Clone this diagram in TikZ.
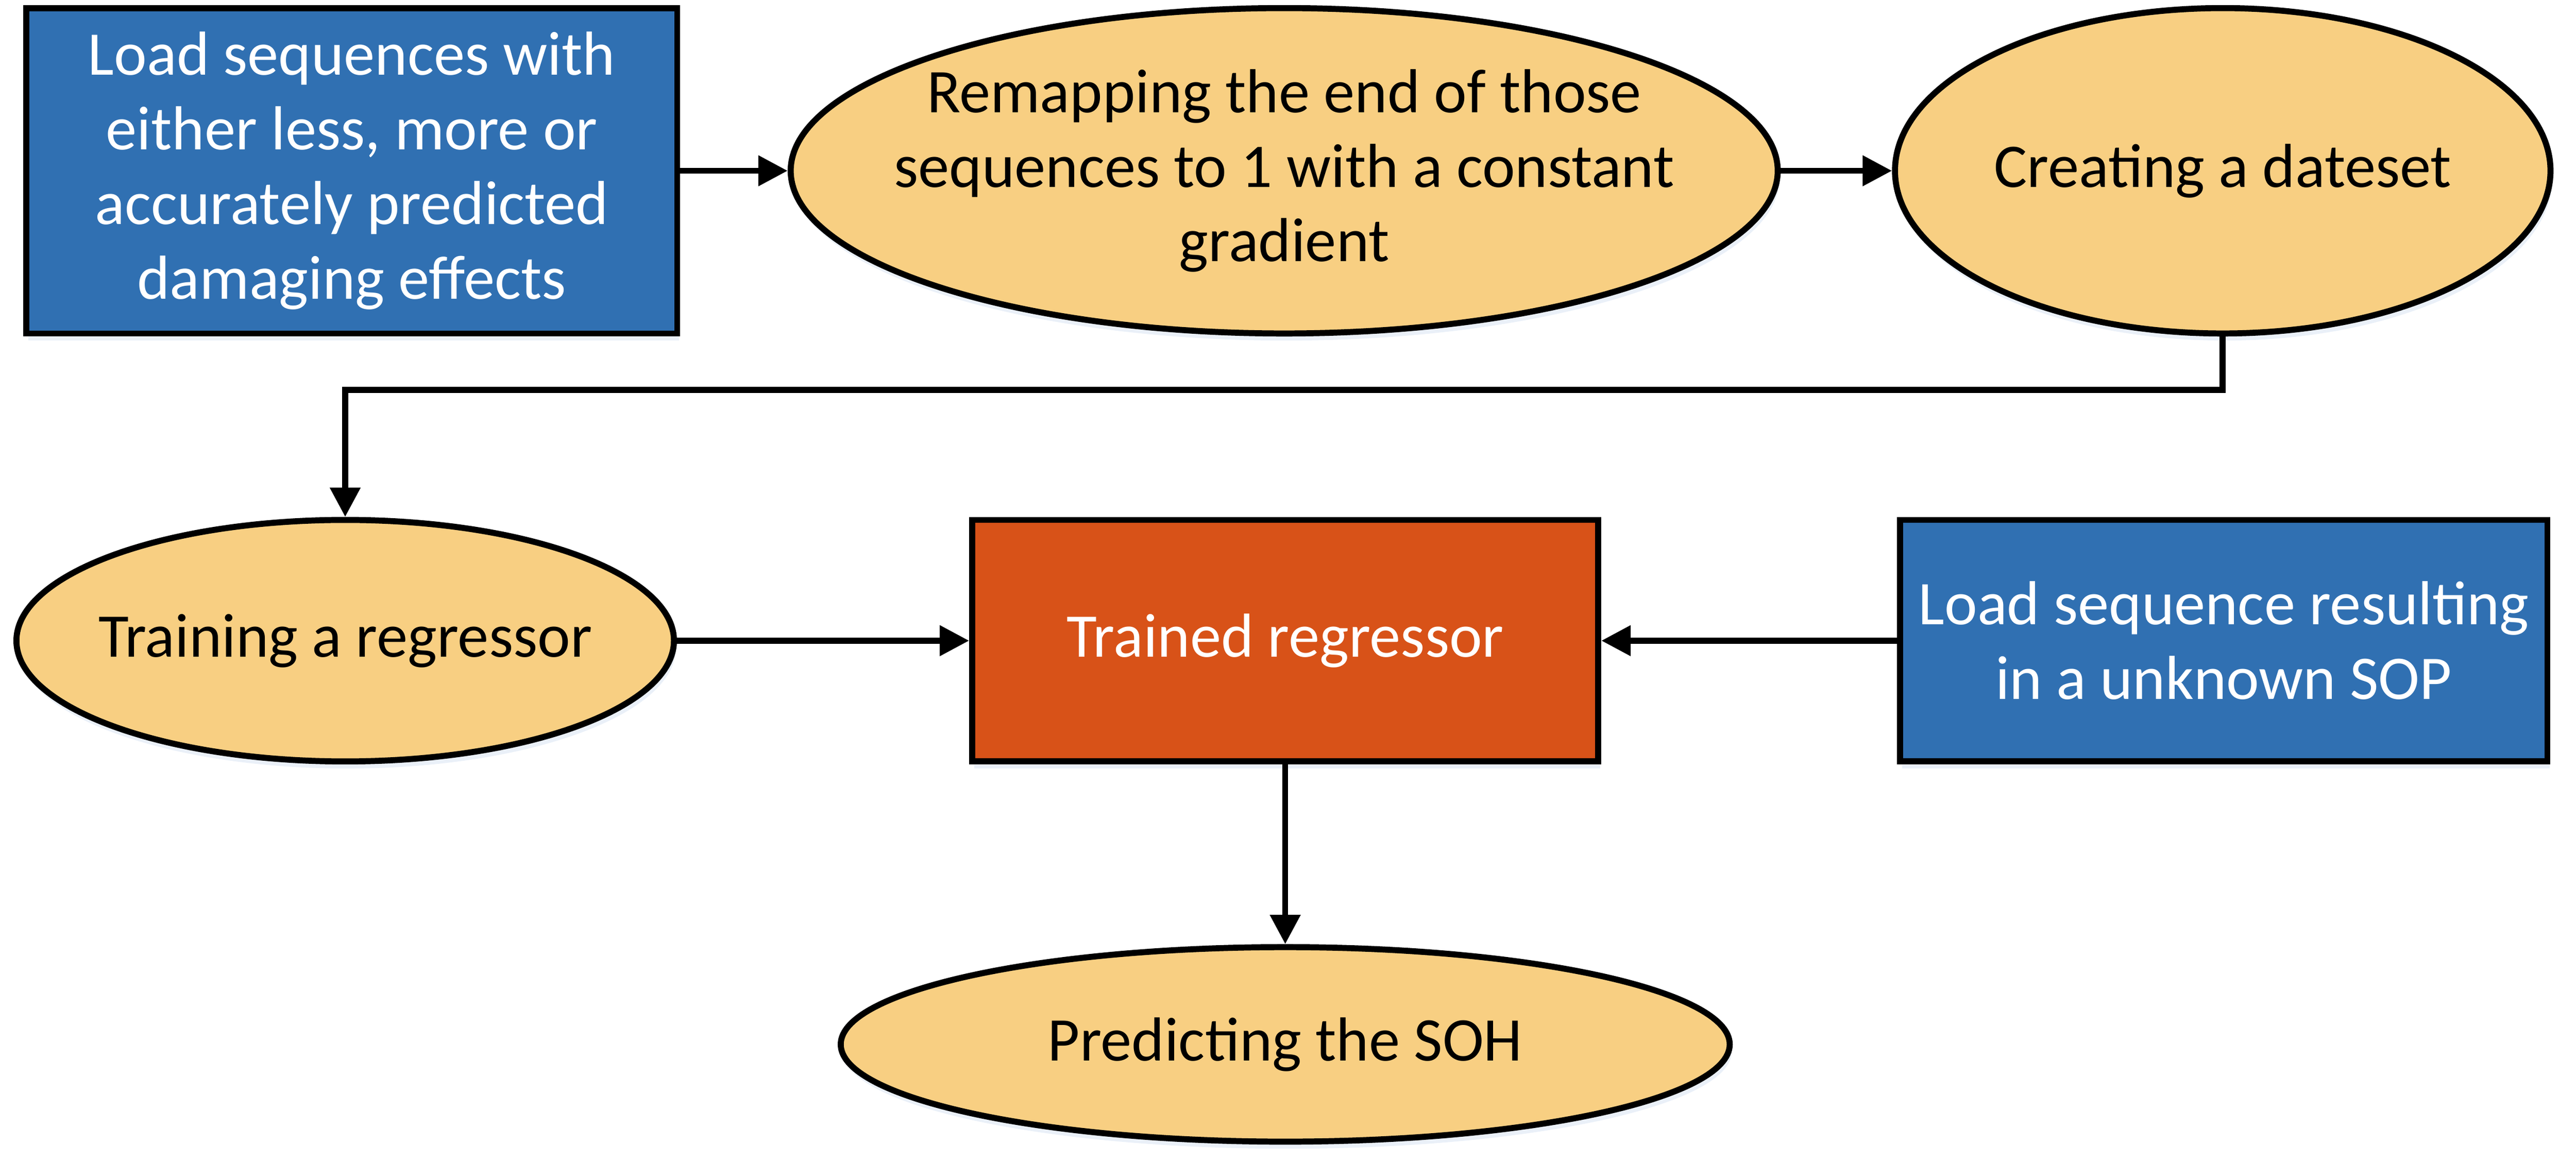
\documentclass[tikz,border=0pt]{standalone}
\usepackage{fontspec}
\setmainfont{Carlito}
\usepackage{tikz}
\usetikzlibrary{shapes.geometric,arrows.meta,shadows,positioning}
\usepackage{xcolor}
\definecolor{boxblue}{HTML}{3070B2}
\definecolor{ovalfill}{HTML}{F8CF82}
\definecolor{trainred}{HTML}{D85218}
\definecolor{shadowblue}{HTML}{DCE6F4}
\tikzset{%
  shape base/.style={draw=black, line width=3.4pt, align=center, inner sep=0pt,
    font=\fontsize{35}{42}\selectfont,
    drop shadow={shadow xshift=0.4mm, shadow yshift=-1.4mm, fill=shadowblue, opacity=0.6}},
  block/.style={rectangle, shape base},
  blue block/.style={block, fill=boxblue, text=white},
  oval/.style={ellipse, shape base, fill=ovalfill, inner xsep=-1.5cm, inner ysep=-1cm},
  flow/.style={line width=3.4pt, -{Triangle[length=5.8mm,width=5.8mm]}}
}

\begin{document}
\begin{tikzpicture}
          \useasboundingbox (0,0) rectangle (50.97,-22.99);

          \node[blue block, minimum width=12.88cm, minimum height=6.44cm] (load) at (6.96,-3.38)
            {Load sequences with\\either less, more or\\accurately predicted\\damaging effects};
          \node[oval, minimum width=19.53cm, minimum height=6.44cm] (remap) at (25.41,-3.38)
            {Remapping the end of those\\sequences to 1 with a constant\\gradient};
          \node[oval, minimum width=12.97cm, minimum height=6.44cm] (dataset) at (43.98,-3.38)
            {Creating a dateset};

          \node[oval, minimum width=13.01cm, minimum height=4.78cm] (train) at (6.83,-12.68)
            {Training a regressor};
          \node[block, fill=trainred, text=white, minimum width=12.39cm, minimum height=4.78cm] (trained) at (25.43,-12.68)
            {Trained regressor};
          \node[blue block, minimum width=12.81cm, minimum height=4.78cm] (loadsop) at (44.00,-12.68)
            {Load sequence resulting\\in a unknown SOP};
          \node[oval, minimum width=17.59cm, minimum height=3.85cm] (predict) at (25.43,-20.67)
            {Predicting the SOH};

          \coordinate (turn) at (6.83,-7.72);

          \draw[flow] (load) -- (remap);
          \draw[flow] (remap) -- (dataset);
          \draw[flow] (dataset.south) |- (turn) -- (train.north);
          \draw[flow] (train) -- (trained);
          \draw[flow] (loadsop) -- (trained);
          \draw[flow] (trained) -- (predict);
        \end{tikzpicture}
\end{document}
